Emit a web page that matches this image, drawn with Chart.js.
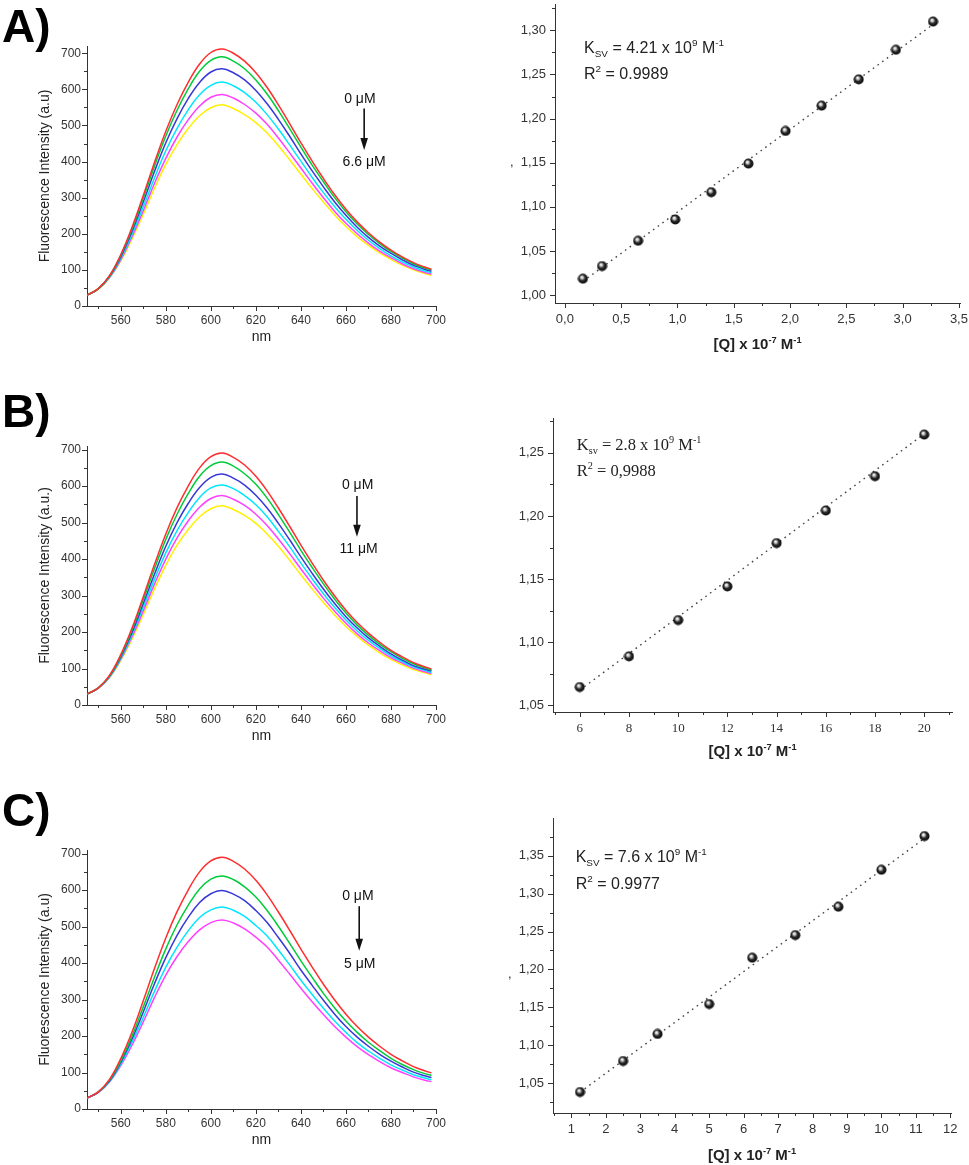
<!DOCTYPE html>
<html>
<head>
<meta charset="utf-8">
<script src="https://cdn.jsdelivr.net/npm/chart.js@4.4.1/dist/chart.umd.min.js"></script>
<style>
  html, body { margin: 0; padding: 0; background: #fff; overflow: hidden; }
  #page { position: relative; width: 969px; height: 1165px; overflow: hidden; background: #fff; }
  canvas { position: absolute; }
  .tag { position: absolute; left: 2px; font: bold 46px "Liberation Sans", Arial, sans-serif; line-height: 46px; color: #000; }
</style>
</head>
<body>
<div id="page">
  <canvas id="specA"></canvas>
  <canvas id="svA"></canvas>
  <canvas id="specB"></canvas>
  <canvas id="svB"></canvas>
  <canvas id="specC"></canvas>
  <canvas id="svC"></canvas>
  <div class="tag" style="top:3px">A)</div>
  <div class="tag" style="top:388px">B)</div>
  <div class="tag" style="top:787px">C)</div>
</div>
<script>
// emission wavelengths (nm)
const nm = [545, 550, 555, 560, 565, 570, 575, 580, 585, 590, 595, 600, 605, 610, 615, 620,
            625, 630, 635, 640, 645, 650, 655, 660, 665, 670, 675, 680, 685, 690, 695, 698];

// A) spectra, 0 -> 6.6 uM
const aRed     = [30, 48, 84, 142, 218, 306, 398, 484, 558, 620, 670, 702, 712, 700, 678, 646, 605, 557, 505, 452, 401, 353, 308, 268, 233, 203, 177, 155, 136, 120, 108, 102];
const aGreen   = [30, 48, 83, 140, 213, 299, 388, 471, 542, 602, 650, 680, 690, 678, 657, 626, 587, 541, 491, 440, 390, 344, 300, 261, 227, 198, 173, 151, 133, 117, 105, 100];
const aBlue    = [30, 47, 82, 136, 207, 288, 373, 452, 519, 575, 619, 648, 657, 646, 626, 597, 560, 517, 470, 421, 374, 330, 288, 251, 218, 190, 166, 146, 128, 113, 102, 96];
const aCyan    = [30, 47, 80, 132, 199, 275, 355, 430, 492, 544, 585, 611, 620, 610, 591, 564, 530, 490, 446, 401, 356, 314, 275, 240, 209, 182, 159, 139, 122, 108, 97, 92];
const aMagenta = [30, 47, 79, 128, 192, 264, 340, 409, 468, 516, 554, 578, 586, 576, 558, 534, 503, 465, 424, 382, 340, 300, 262, 229, 200, 174, 152, 134, 117, 103, 93, 88];
const aYellow  = [30, 46, 78, 125, 186, 254, 326, 392, 447, 492, 527, 549, 557, 547, 530, 508, 479, 444, 405, 365, 325, 288, 252, 220, 192, 168, 147, 129, 113, 100, 90, 85];

// B) spectra, 0 -> 11 uM
const bRed     = [30, 47, 81, 138, 211, 297, 386, 469, 541, 601, 650, 681, 691, 679, 658, 627, 587, 540, 490, 438, 389, 342, 299, 260, 226, 197, 172, 150, 132, 116, 105, 99];
const bGreen   = [30, 47, 80, 135, 206, 289, 374, 454, 523, 580, 627, 656, 666, 655, 634, 605, 567, 522, 474, 424, 377, 332, 290, 252, 219, 191, 167, 146, 128, 113, 102, 96];
const bBlue    = [30, 46, 79, 132, 199, 278, 359, 435, 500, 553, 596, 624, 633, 622, 603, 575, 540, 498, 453, 406, 361, 318, 278, 242, 211, 184, 161, 140, 123, 108, 98, 93];
const bCyan    = [30, 46, 77, 128, 193, 268, 345, 417, 478, 528, 569, 595, 603, 593, 574, 549, 516, 476, 434, 389, 346, 305, 267, 233, 203, 177, 155, 135, 119, 105, 95, 89];
const bMagenta = [30, 46, 76, 125, 187, 258, 332, 400, 458, 505, 542, 566, 574, 564, 547, 523, 492, 455, 415, 373, 332, 293, 257, 224, 195, 170, 149, 130, 115, 101, 91, 86];
const bYellow  = [30, 46, 75, 122, 181, 248, 319, 383, 438, 481, 516, 538, 546, 536, 520, 498, 469, 435, 397, 357, 318, 281, 247, 215, 188, 164, 143, 125, 110, 97, 88, 83];

// C) spectra, 0 -> 5 uM
const cRed     = [30, 47, 81, 138, 211, 297, 386, 469, 541, 601, 650, 680, 690, 679, 658, 627, 587, 540, 490, 438, 389, 342, 299, 260, 226, 197, 172, 150, 132, 116, 105, 99];
const cGreen   = [30, 46, 79, 132, 200, 280, 362, 439, 505, 559, 603, 630, 639, 629, 609, 581, 544, 501, 454, 406, 361, 317, 277, 241, 210, 183, 160, 139, 122, 108, 97, 92];
const cBlue    = [30, 46, 77, 128, 192, 266, 344, 415, 476, 526, 566, 590, 599, 589, 571, 544, 511, 470, 427, 381, 339, 298, 260, 226, 197, 172, 150, 131, 115, 101, 91, 86];
const cCyan    = [30, 46, 75, 123, 183, 251, 323, 389, 444, 489, 525, 546, 554, 545, 528, 503, 474, 436, 395, 353, 314, 276, 241, 210, 182, 159, 139, 121, 107, 94, 85, 80];
const cMagenta = [30, 45, 74, 119, 175, 239, 306, 367, 418, 459, 491, 511, 518, 510, 494, 471, 444, 408, 370, 331, 294, 259, 226, 197, 171, 149, 130, 113, 100, 88, 79, 75];

// Stern-Volmer points ([Q] x 1e-7 M, F0/F) and the fitted lines
const qA = [0.16, 0.33, 0.65, 0.98, 1.30, 1.63, 1.96, 2.28, 2.61, 2.94, 3.27];
const ratioA = [1.0185, 1.0328, 1.0615, 1.0857, 1.1166, 1.149, 1.186, 1.2147, 1.2445, 1.278, 1.310];
const fitAq = [0.16, 3.30];
const fitAr = [1.0155, 1.3095];

const qB = [6, 8, 10, 12, 14, 16, 18, 20];
const ratioB = [1.0645, 1.0888, 1.1175, 1.1442, 1.1785, 1.2043, 1.2315, 1.2645];
const fitBq = [6, 20];
const fitBr = [1.062, 1.265];

const qC = [1.25, 2.5, 3.5, 5, 6.25, 7.5, 8.75, 10, 11.25];
const ratioC = [1.0381, 1.079, 1.1147, 1.1543, 1.2154, 1.2453, 1.2827, 1.3315, 1.376];
const fitCq = [1.25, 11.25];
const fitCr = [1.0378, 1.373];

// tick labels
const nmTicks = [560, 580, 600, 620, 640, 660, 680, 700];
const intensityTicks = [0, 100, 200, 300, 400, 500, 600, 700];
const qTicksA = [0, 0.5, 1, 1.5, 2, 2.5, 3, 3.5];
const ratioTicksA = [1, 1.05, 1.1, 1.15, 1.2, 1.25, 1.3];
const qTicksB = [6, 8, 10, 12, 14, 16, 18, 20];
const ratioTicksB = [1.05, 1.1, 1.15, 1.2, 1.25];
const qTicksC = [1, 2, 3, 4, 5, 6, 7, 8, 9, 10, 11, 12];
const ratioTicksC = [1.05, 1.1, 1.15, 1.2, 1.25, 1.3, 1.35];

const SANS = '"Liberation Sans", Arial, Helvetica, sans-serif';
const SERIF = '"Liberation Serif", "Times New Roman", serif';
Chart.defaults.font.family = SANS;
Chart.defaults.color = '#333';
Chart.defaults.animation = false;

const PAD = 16;
const lineColors = ['#ff2e2e', '#00cc3a', '#3838d8', '#00e6ff', '#ff40ff', '#fff000'];

// black glossy bead used for the Stern-Volmer points
const bead = document.createElement('canvas');
bead.width = bead.height = 11;
(function () {
  const g = bead.getContext('2d');
  const grad = g.createRadialGradient(4.2, 3.8, 0.2, 5.5, 5.5, 5.6);
  grad.addColorStop(0, '#ffffff');
  grad.addColorStop(0.2, '#cfcfcf');
  grad.addColorStop(0.5, '#2a2a2a');
  grad.addColorStop(1, '#000000');
  g.fillStyle = grad;
  g.beginPath();
  g.arc(5.5, 5.5, 5, 0, Math.PI * 2);
  g.fill();
})();

function place(id, box) {
  const el = document.getElementById(id);
  el.width = box.r - box.l + box.yw + 2 * PAD;
  el.height = box.b - box.t + box.xh + 2 * PAD;
  el.style.left = (box.l - box.yw - PAD) + 'px';
  el.style.top = (box.t - PAD) + 'px';
  return el;
}

function axis(o) {
  return {
    type: 'linear',
    min: o.min,
    max: o.max,
    afterBuildTicks: s => { s.ticks = o.ticks.map(v => ({ value: v })); },
    afterFit: s => { if (o.w) s.width = o.w; if (o.h) s.height = o.h; },
    grid: { display: false, drawTicks: false },
    border: { display: true, color: '#333', width: 1 },
    ticks: { font: o.font, color: '#333', padding: o.pad, autoSkip: false, maxRotation: 0, callback: o.fmt },
    title: o.title ? { display: true, text: o.title, font: { size: 14 }, color: '#222', padding: 0 } : { display: false }
  };
}

const comma = d => v => v.toFixed(d).replace('.', ',');

function rich(ctx, parts, x, y, f, align) {
  const fontOf = mode => `${f.weight || 'normal'} ${mode ? f.size * 0.62 : f.size}px ${f.family}`;
  let w = 0;
  parts.forEach(([t, mode]) => { ctx.font = fontOf(mode); w += ctx.measureText(t).width; });
  let cx = align === 'center' ? x - w / 2 : x;
  ctx.fillStyle = f.color || '#222';
  ctx.textAlign = 'left';
  ctx.textBaseline = 'alphabetic';
  parts.forEach(([t, mode]) => {
    ctx.font = fontOf(mode);
    const dy = mode === 'sup' ? -f.size * 0.42 : mode === 'sub' ? f.size * 0.26 : 0;
    ctx.fillText(t, cx, y + dy);
    cx += ctx.measureText(t).width;
  });
}

// outward major/minor tick marks plus the text notes and arrows
function decor(marks, notes) {
  return {
    id: 'decor',
    afterDraw(chart) {
      const ctx = chart.ctx, area = chart.chartArea;
      const sx = chart.scales.x, sy = chart.scales.y;
      ctx.save();
      ctx.strokeStyle = '#333';
      ctx.lineWidth = 1;
      marks.forEach(m => {
        const s = chart.scales[m.axis];
        const stroke = (v, len) => {
          const p = Math.round(s.getPixelForValue(v)) + 0.5;
          ctx.beginPath();
          if (m.axis === 'x') { ctx.moveTo(p, area.bottom); ctx.lineTo(p, area.bottom + len); }
          else { ctx.moveTo(area.left, p); ctx.lineTo(area.left - len, p); }
          ctx.stroke();
        };
        m.major.forEach(v => stroke(v, 5));
        for (let k = Math.ceil(s.min / m.minor - 1e-6); k * m.minor <= s.max + 1e-9; k++) {
          const v = k * m.minor;
          if (!m.major.some(u => Math.abs(u - v) < 1e-6)) stroke(v, 3);
        }
      });
      notes.forEach(n => {
        let x, y;
        if (n.rel === 'xtitle') { x = (area.left + area.right) / 2; y = area.bottom + n.dy; }
        else if (n.rel === 'yside') { x = area.left + n.dx; y = (area.top + area.bottom) / 2 + n.dy; }
        else { x = sx.getPixelForValue(n.x); y = sy.getPixelForValue(n.y); }
        if (n.arrow) {
          const y2 = sy.getPixelForValue(n.y2);
          ctx.strokeStyle = '#111';
          ctx.fillStyle = '#111';
          ctx.lineWidth = 1.6;
          ctx.beginPath(); ctx.moveTo(x, y); ctx.lineTo(x, y2 - 10); ctx.stroke();
          ctx.beginPath();
          ctx.moveTo(x - 3.8, y2 - 12); ctx.lineTo(x + 3.8, y2 - 12); ctx.lineTo(x, y2);
          ctx.closePath(); ctx.fill();
        } else {
          rich(ctx, n.parts, x, y, n.font, n.align);
        }
      });
      ctx.restore();
    }
  };
}

const NOTE = { size: 14, family: SANS, color: '#111' };

function spectrum(id, box, series, ymax, yTitle, notes) {
  return new Chart(place(id, box), {
    type: 'line',
    data: {
      datasets: series.map((arr, i) => ({
        data: nm.map((w, j) => ({ x: w, y: arr[j] })),
        borderColor: lineColors[i],
        borderWidth: 1.5,
        pointRadius: 0,
        tension: 0.4,
        fill: false
      }))
    },
    options: {
      responsive: false,
      layout: { padding: PAD },
      plugins: { legend: { display: false }, tooltip: { enabled: false } },
      scales: {
        x: axis({ min: 545, max: 700, ticks: nmTicks, font: { size: 12 }, pad: 7, title: 'nm', h: box.xh }),
        y: axis({ min: 0, max: ymax, ticks: intensityTicks, font: { size: 12 }, pad: 6, title: yTitle, w: box.yw })
      }
    },
    plugins: [decor([
      { axis: 'x', major: nmTicks, minor: 10 },
      { axis: 'y', major: intensityTicks, minor: 50 }
    ], notes)]
  });
}

function qTitle(dy) {
  return { rel: 'xtitle', dy: dy, align: 'center', font: { size: 15, weight: 'bold', family: SANS, color: '#222' },
    parts: [['[Q] x 10'], ['-7', 'sup'], [' M'], ['-1', 'sup']] };
}

function sternVolmer(id, box, q, r, fq, fr, xo, yo, notes) {
  return new Chart(place(id, box), {
    type: 'scatter',
    data: {
      datasets: [
        { data: q.map((v, i) => ({ x: v, y: r[i] })), pointStyle: bead, pointRadius: 5, pointHoverRadius: 5 },
        { data: fq.map((v, i) => ({ x: v, y: fr[i] })), showLine: true, borderColor: '#444', borderWidth: 1.4,
          borderDash: [1.6, 4.2], pointRadius: 0 }
      ]
    },
    options: {
      responsive: false,
      layout: { padding: PAD },
      plugins: { legend: { display: false }, tooltip: { enabled: false } },
      scales: {
        x: axis(Object.assign({ pad: 9, h: box.xh }, xo)),
        y: axis(Object.assign({ pad: 9, w: box.yw, font: { size: 13 }, fmt: comma(2) }, yo))
      }
    },
    plugins: [decor([
      { axis: 'x', major: xo.ticks, minor: xo.minor },
      { axis: 'y', major: yo.ticks, minor: 0.025 }
    ], notes.concat([qTitle(box.titleDy)]))]
  });
}

// ---- A ----
spectrum('specA', { l: 87, r: 437, t: 46, b: 306, yw: 50, xh: 40 },
  [aRed, aGreen, aBlue, aCyan, aMagenta, aYellow], 720, 'Fluorescence Intensity (a.u)', [
    { x: 666.2, y: 561, parts: [['0 μM']], font: NOTE, align: 'center' },
    { arrow: true, x: 668.1, y: 547, y2: 432 },
    { x: 668.1, y: 388, parts: [['6.6 μM']], font: NOTE, align: 'center' }
  ]);

const KA = { size: 16, family: SANS, color: '#222' };
sternVolmer('svA', { l: 555, r: 961, t: 4, b: 303, yw: 53, xh: 50, titleDy: 46 }, qA, ratioA, fitAq, fitAr,
  { min: -0.088, max: 3.51, ticks: qTicksA, minor: 0.25, font: { size: 13 }, fmt: comma(1) },
  { min: 0.991, max: 1.329, ticks: ratioTicksA }, [
    { x: 0.17, y: 1.2747, font: KA, parts: [['K'], ['SV', 'sub'], [' = 4.21 x 10'], ['9', 'sup'], [' M'], ['-1', 'sup']] },
    { x: 0.17, y: 1.2454, font: KA, parts: [['R'], ['2', 'sup'], [' = 0.9989']] },
    { rel: 'yside', dx: -45, dy: 12, font: { size: 13, family: SANS, color: '#333' }, parts: [[',']] }
  ]);

// ---- B ----
spectrum('specB', { l: 87, r: 437, t: 446, b: 705, yw: 50, xh: 40 },
  [bRed, bGreen, bBlue, bCyan, bMagenta, bYellow], 710, 'Fluorescence Intensity (a.u.)', [
    { x: 665.2, y: 593, parts: [['0 μM']], font: NOTE, align: 'center' },
    { arrow: true, x: 664.9, y: 573, y2: 461 },
    { x: 665.6, y: 417, parts: [['11 μM']], font: NOTE, align: 'center' }
  ]);

const KB = { size: 16.5, family: SERIF, color: '#222' };
sternVolmer('svB', { l: 553, r: 952, t: 418, b: 712, yw: 53, xh: 50, titleDy: 44 }, qB, ratioB, fitBq, fitBr,
  { min: 4.913, max: 21.13, ticks: qTicksB, minor: 1, font: { size: 13, family: SERIF } },
  { min: 1.0447, max: 1.277, ticks: ratioTicksB }, [
    { x: 5.88, y: 1.2525, font: KB, parts: [['K'], ['sv', 'sub'], [' = 2.8 x 10'], ['9', 'sup'], [' M'], ['-1', 'sup']] },
    { x: 5.88, y: 1.2319, font: KB, parts: [['R'], ['2', 'sup'], [' = 0,9988']] }
  ]);

// ---- C ----
spectrum('specC', { l: 87, r: 437, t: 850, b: 1109, yw: 50, xh: 40 },
  [cRed, cGreen, cBlue, cCyan, cMagenta], 710, 'Fluorescence Intensity (a.u)', [
    { x: 665.3, y: 572, parts: [['0 μM']], font: NOTE, align: 'center' },
    { arrow: true, x: 665.9, y: 556, y2: 434 },
    { x: 666.1, y: 386, parts: [['5 μM']], font: NOTE, align: 'center' }
  ]);

sternVolmer('svC', { l: 553, r: 951, t: 818, b: 1113, yw: 53, xh: 50, titleDy: 47 }, qC, ratioC, fitCq, fitCr,
  { min: 0.466, max: 12.02, ticks: qTicksC, minor: 0.5, font: { size: 13 } },
  { min: 1.0104, max: 1.3988, ticks: ratioTicksC }, [
    { x: 1.125, y: 1.3415, font: KA, parts: [['K'], ['SV', 'sub'], [' = 7.6 x 10'], ['9', 'sup'], [' M'], ['-1', 'sup']] },
    { x: 1.125, y: 1.3065, font: KA, parts: [['R'], ['2', 'sup'], [' = 0.9977']] },
    { rel: 'yside', dx: -45, dy: 12, font: { size: 13, family: SANS, color: '#333' }, parts: [[',']] }
  ]);
</script>
</body>
</html>
